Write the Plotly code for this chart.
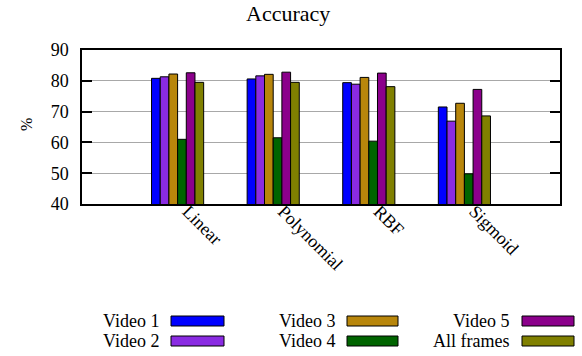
import plotly.graph_objects as go

# Kernel groups along the x axis
kernels = ["Linear", "Polynomial", "RBF", "Sigmoid"]
kernel_pos = [0, 1, 2, 3]

# Accuracy (%) per video, one value per kernel
video1 = [80.8, 80.6, 79.4, 71.5]
video2 = [81.3, 81.6, 78.9, 66.9]
video3 = [82.2, 82.1, 81.1, 72.7]
video4 = [61.0, 61.5, 60.4, 49.8]
video5 = [82.6, 82.8, 82.5, 77.2]
all_frames = [79.5, 79.5, 78.1, 68.6]

series_names = ["Video 1", "Video 2", "Video 3", "Video 4", "Video 5", "All frames"]
series_values = [video1, video2, video3, video4, video5, all_frames]
series_colors = ["#0000ff", "#8a2be2", "#b8860b", "#006400", "#8b008b", "#808000"]

W, H = 582, 356
L, R, T, B = 82, 22, 50, 152
PW, PH = W - L - R, H - T - B
FONT = "Times New Roman, Liberation Serif, Times, serif"


def px_x(px):
    return (px - L) / PW


def px_y(py):
    return (H - B - py) / PH


fig = go.Figure()
for name, vals, col in zip(series_names, series_values, series_colors):
    fig.add_trace(go.Bar(
        x=kernel_pos, y=vals, name=name,
        marker=dict(color=col, line=dict(color="black", width=1)),
        showlegend=False,
    ))

# Legend drawn below the chart: label text followed by a colour swatch
legend_cols = [(161, 171, 224), (337, 347, 398), (511, 522, 574)]
legend_rows = [321, 341]
for i, (name, col) in enumerate(zip(series_names, series_colors)):
    text_r, box_l, box_r = legend_cols[i // 2]
    cy = legend_rows[i % 2]
    fig.add_annotation(
        x=px_x(text_r), y=px_y(cy), xref="paper", yref="paper",
        text=name, showarrow=False, xanchor="right", yanchor="middle",
        font=dict(family=FONT, size=18, color="black"),
    )
    fig.add_shape(
        type="rect", xref="paper", yref="paper",
        x0=px_x(box_l), x1=px_x(box_r), y0=px_y(cy + 5), y1=px_y(cy - 5),
        fillcolor=col, line=dict(color="black", width=1),
    )

# Title and y-axis label
fig.add_annotation(
    x=px_x(288), y=px_y(14), xref="paper", yref="paper", text="Accuracy",
    showarrow=False, xanchor="center", yanchor="middle",
    font=dict(family=FONT, size=22, color="black"),
)
fig.add_annotation(
    x=px_x(26), y=px_y(125), xref="paper", yref="paper", text="%",
    showarrow=False, xanchor="center", yanchor="middle", textangle=-90,
    font=dict(family=FONT, size=16, color="black"),
)

fig.update_layout(
    width=W, height=H,
    margin=dict(l=L, r=R, t=T, b=B, pad=0),
    paper_bgcolor="white", plot_bgcolor="white",
    barmode="group", bargap=5 / 11, bargroupgap=0,
    font=dict(family=FONT, size=18, color="black"),
)
fig.update_xaxes(
    range=[-1, 4], tickvals=kernel_pos, ticktext=kernels, tickangle=45,
    showgrid=False, zeroline=False, ticks="",
    showline=True, mirror=True, linecolor="black", linewidth=1.5,
    ticklabelshift=10, ticklabelstandoff=-12,
    tickfont=dict(family=FONT, size=18, color="black"),
)
fig.update_yaxes(
    range=[40, 90], dtick=10, ticks="inside", ticklen=10, tickwidth=1.5,
    tickcolor="black", showgrid=True, gridcolor="#a8a8a8", gridwidth=1,
    zeroline=False, showline=True, mirror="ticks", linecolor="black",
    linewidth=1.5, ticklabelstandoff=8,
    tickfont=dict(family=FONT, size=18, color="black"),
)

fig.write_html("out.html")
